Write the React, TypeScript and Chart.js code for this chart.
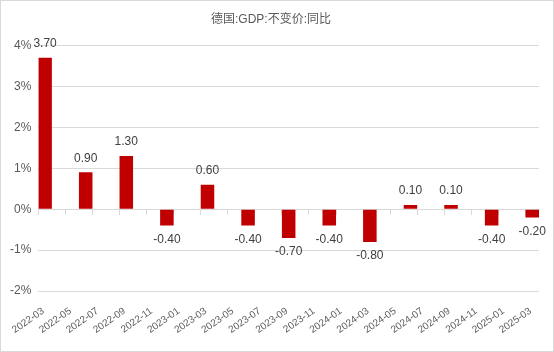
import React, { useEffect, useRef } from 'react';
import { Chart, registerables } from 'chart.js';

Chart.register(...registerables);

const chartTitle = '德国:GDP:不变价:同比';
const periods = [
  '2022-03', '2022-06', '2022-09', '2022-12',
  '2023-03', '2023-06', '2023-09', '2023-12',
  '2024-03', '2024-06', '2024-09', '2024-12',
  '2025-03',
];
const values = [3.7, 0.9, 1.3, -0.4, 0.6, -0.4, -0.7, -0.4, -0.8, 0.1, 0.1, -0.4, -0.2];
const tickLabels = [
  '2022-03', '2022-05', '2022-07', '2022-09', '2022-11',
  '2023-01', '2023-03', '2023-05', '2023-07', '2023-09', '2023-11',
  '2024-01', '2024-03', '2024-05', '2024-07', '2024-09', '2024-11',
  '2025-01', '2025-03',
];
const yMin = -2;
const yMax = 4;
const yStep = 1;

const FONT = '"Liberation Sans", Arial, "Noto Sans CJK SC", sans-serif';

function monthIndex(s: string): number {
  const [y, m] = s.split('-').map(Number);
  const [y0, m0] = periods[0].split('-').map(Number);
  return (y - y0) * 12 + (m - m0);
}

const axisMax = monthIndex(periods[periods.length - 1]) + 1;

const valueLabels = {
  id: 'valueLabels',
  afterDatasetsDraw(chart: any) {
    const ctx = chart.ctx;
    const meta = chart.getDatasetMeta(0);
    ctx.save();
    ctx.font = `12px ${FONT}`;
    ctx.fillStyle = '#404040';
    ctx.textAlign = 'center';
    ctx.textBaseline = 'middle';
    meta.data.forEach((bar: any, i: number) => {
      const v = values[i];
      const y = v >= 0 ? bar.y - 14 : bar.y + 14;
      ctx.fillText(v.toFixed(2), bar.x, y);
    });
    ctx.restore();
  },
};

const setTicks = (scale: any) => {
  scale.ticks = tickLabels.map((l) => ({ value: monthIndex(l) }));
};

const noSidePadding = (scale: any) => {
  scale.paddingLeft = 0;
  scale.paddingRight = 0;
};

export default function App() {
  const ref = useRef<HTMLCanvasElement>(null);

  useEffect(() => {
    if (!ref.current) return;
    const chart = new Chart(ref.current, {
      type: 'bar',
      data: {
        datasets: [
          {
            data: periods.map((p, i) => ({ x: monthIndex(p) + 0.5, y: values[i] })),
            backgroundColor: '#C00000',
            barPercentage: 0.5,
            categoryPercentage: 1,
            xAxisID: 'x',
            yAxisID: 'y',
          },
        ],
      },
      options: {
        animation: false,
        responsive: false,
        layout: { padding: { left: 2, right: 14, top: 0, bottom: 1 } },
        plugins: {
          legend: { display: false },
          tooltip: { enabled: false },
          title: {
            display: true,
            text: chartTitle,
            color: '#595959',
            font: { family: FONT, size: 12, weight: 'normal' },
            padding: { top: 11, bottom: 19 },
          },
        },
        scales: {
          x: {
            type: 'linear',
            position: 'bottom',
            offset: false,
            min: 0,
            max: axisMax,
            afterBuildTicks: setTicks,
            afterFit: noSidePadding,
            grid: { display: false, drawTicks: false, offset: false },
            border: { display: false },
            ticks: {
              autoSkip: false,
              minRotation: 35,
              maxRotation: 35,
              labelOffset: 5,
              padding: 14,
              color: '#595959',
              font: { family: FONT, size: 10 },
              callback: (_v: any, i: number) => tickLabels[i],
            },
          },
          x2: {
            type: 'linear',
            axis: 'x',
            position: { y: 0 },
            offset: false,
            min: 0,
            max: axisMax,
            afterBuildTicks: setTicks,
            afterFit: noSidePadding,
            ticks: { display: false },
            grid: { drawOnChartArea: false, drawTicks: true, tickLength: 5, color: '#d9d9d9', offset: false },
            border: { display: true, color: '#d9d9d9' },
          },
          y: {
            type: 'linear',
            min: yMin,
            max: yMax,
            grid: { color: '#d9d9d9', drawTicks: false },
            border: { display: false },
            ticks: {
              stepSize: yStep,
              padding: 7,
              color: '#595959',
              font: { family: FONT, size: 12 },
              callback: (v: any) => `${v}%`,
            },
          },
        },
      },
      plugins: [valueLabels],
    } as any);
    return () => chart.destroy();
  }, []);

  return (
    <div
      style={{
        position: 'fixed',
        left: 0,
        top: 0,
        width: 554,
        height: 352,
        border: '1px solid #d9d9d9',
        boxSizing: 'border-box',
        background: '#fff',
      }}
    >
      <canvas ref={ref} width={552} height={350} style={{ width: 552, height: 350, display: 'block' }} />
    </div>
  );
}
